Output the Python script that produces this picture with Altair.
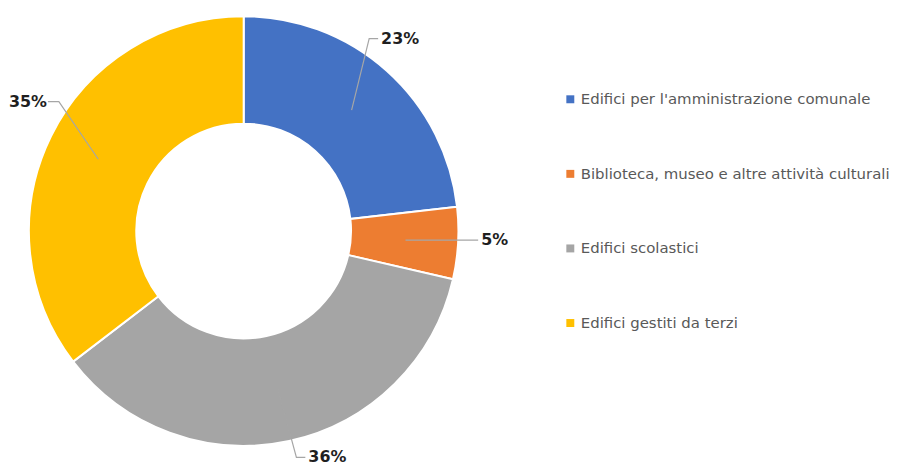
import math
import altair as alt
import pandas as pd

# ---- data ----
categories = [
    "Edifici per l'amministrazione comunale",
    "Biblioteca, museo e altre attività culturali",
    "Edifici scolastici",
    "Edifici gestiti da terzi",
]
values = [23.2, 5.4, 36.0, 35.4]
pct_labels = ["23%", "5%", "36%", "35%"]
colors = ["#4472C4", "#ED7D31", "#A5A5A5", "#FFC000"]

# ---- layout constants ----
W, H = 472, 446
R_OUT, R_IN = 216, 108
R_LEAD = 163          # start of leader lines (middle of ring)
R_LABEL = 236         # leader line end / label anchor
label_nudge = [-6.8, -1.0, -3.0, 7.2]   # best-fit shift of labels (degrees)

total = sum(values)
arc_df = pd.DataFrame({"category": categories, "value": values,
                       "idx": list(range(len(values)))})

line_rows, text_rows = [], []
cum = 0.0
for i, v in enumerate(values):
    start = cum / total * 360
    cum += v
    end = cum / total * 360
    mid = (start + end) / 2
    a0 = math.radians(mid)
    sx, sy = R_LEAD * math.sin(a0), R_LEAD * math.cos(a0)
    a1 = math.radians(mid + label_nudge[i])
    tx, ty = R_LABEL * math.sin(a1), R_LABEL * math.cos(a1)
    right = math.sin(a1) > 0
    ex = tx - 9 if right else tx + 11
    for k, (px, py) in enumerate([(sx, sy), (ex, ty), (tx, ty)]):
        line_rows.append({"slice": i, "k": k, "x": px, "y": py})
    text_rows.append({"label": pct_labels[i], "x": tx + (3 if right else -1),
                      "y": ty, "side": "R" if right else "L"})

line_df = pd.DataFrame(line_rows)
text_df = pd.DataFrame(text_rows)

xs = alt.Scale(domain=[-W / 2, W / 2], nice=False, zero=False)
ys = alt.Scale(domain=[-H / 2, H / 2], nice=False, zero=False)

arcs = alt.Chart(arc_df).mark_arc(
    outerRadius=R_OUT, innerRadius=R_IN, stroke="white", strokeWidth=2
).encode(
    theta=alt.Theta("value:Q", stack=True),
    order=alt.Order("idx:Q"),
    color=alt.Color(
        "category:N",
        scale=alt.Scale(domain=categories, range=colors),
        legend=alt.Legend(
            title=None, orient="none", legendX=557, legendY=83,
            symbolType="square", symbolSize=64, symbolStrokeWidth=0,
            labelFontSize=15, labelFont="DejaVu Sans", labelColor="#595959",
            rowPadding=59, labelOffset=3, padding=0, labelLimit=330,
        ),
    ),
)

leaders = alt.Chart(line_df).mark_line(color="#A6A6A6", strokeWidth=1.2).encode(
    x=alt.X("x:Q", scale=xs, axis=None),
    y=alt.Y("y:Q", scale=ys, axis=None),
    detail="slice:N",
    order="k:Q",
)

text_common = dict(font="DejaVu Sans", fontSize=16, fontWeight="bold",
                   color="#1f1f1f", baseline="middle")
labels_r = alt.Chart(text_df).transform_filter("datum.side == 'R'").mark_text(
    align="left", **text_common
).encode(x=alt.X("x:Q", scale=xs, axis=None),
         y=alt.Y("y:Q", scale=ys, axis=None), text="label:N")
labels_l = alt.Chart(text_df).transform_filter("datum.side == 'L'").mark_text(
    align="right", **text_common
).encode(x=alt.X("x:Q", scale=xs, axis=None),
         y=alt.Y("y:Q", scale=ys, axis=None), text="label:N")

chart = alt.layer(arcs, leaders, labels_r, labels_l).properties(
    width=W, height=H, padding=0
).configure_view(stroke=None)

chart.save("out.html", embed_options={"renderer": "svg", "actions": False})
